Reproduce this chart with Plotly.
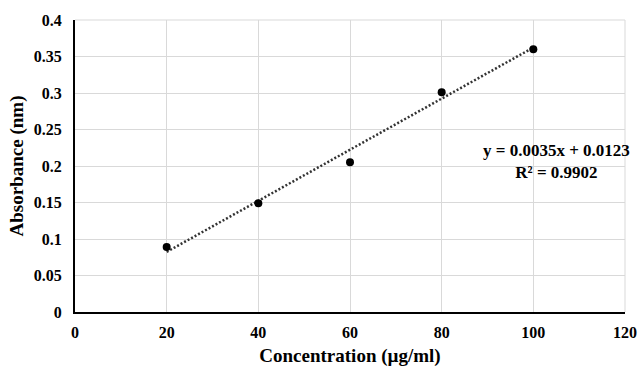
import plotly.graph_objects as go

concentration = [20, 40, 60, 80, 100]
absorbance = [0.089, 0.149, 0.205, 0.301, 0.360]
trend_x = [20, 100]
trend_y = [0.0823, 0.3623]
x_ticks = [0, 20, 40, 60, 80, 100, 120]
y_ticks = [0, 0.05, 0.1, 0.15, 0.2, 0.25, 0.3, 0.35, 0.4]
y_tick_labels = ["0", "0.05", "0.1", "0.15", "0.2", "0.25", "0.3", "0.35", "0.4"]
equation_lines = ["y = 0.0035x + 0.0123", "R² = 0.9902"]

font_family = "Liberation Serif, Times New Roman, serif"

fig = go.Figure()
fig.add_trace(go.Scatter(
    x=trend_x, y=trend_y, mode="lines",
    line=dict(color="#333333", width=2.5, dash="2px,2px"),
    showlegend=False, hoverinfo="skip"))
fig.add_trace(go.Scatter(
    x=concentration, y=absorbance, mode="markers",
    marker=dict(color="black", size=8),
    showlegend=False))

fig.add_annotation(
    x=0.876, y=0.2055, xref="paper", yref="y",
    text="<br>".join(f"<b>{t}</b>" for t in equation_lines),
    showarrow=False, align="center",
    font=dict(family=font_family, size=17, color="black"),
    xanchor="center", yanchor="middle")

fig.update_layout(
    width=640, height=367,
    margin=dict(l=75, r=15, t=20, b=55),
    paper_bgcolor="white", plot_bgcolor="white",
    font=dict(family=font_family, size=16, color="black"),
)
fig.update_xaxes(
    range=[0, 120], tickvals=x_ticks,
    ticktext=[f"<b>{v}</b>" for v in x_ticks],
    showgrid=True, gridcolor="#d9d9d9", gridwidth=1,
    showline=True, linecolor="black", linewidth=2,
    zeroline=False, ticks="", ticklabelstandoff=5,
    automargin=False,
    title=dict(text="<b>Concentration (µg/ml)</b>", font=dict(size=19), standoff=9),
)
fig.update_yaxes(
    range=[0, 0.4], tickvals=y_ticks,
    ticktext=[f"<b>{t}</b>" for t in y_tick_labels],
    showgrid=True, gridcolor="#d9d9d9", gridwidth=1,
    showline=True, linecolor="black", linewidth=2,
    zeroline=False, ticks="", ticklabelstandoff=8,
    automargin=False,
    title=dict(text="<b>Absorbance (nm)</b>", font=dict(size=19), standoff=5),
)
# right and top grid borders
fig.add_shape(type="line", xref="paper", yref="paper", x0=1, x1=1, y0=0, y1=1,
              line=dict(color="#d9d9d9", width=1))
fig.add_shape(type="line", xref="paper", yref="paper", x0=0, x1=1, y0=1, y1=1,
              line=dict(color="#d9d9d9", width=1))

fig.write_html("out.html", config={"displayModeBar": False},
               post_script="document.body.style.margin='0px';")
